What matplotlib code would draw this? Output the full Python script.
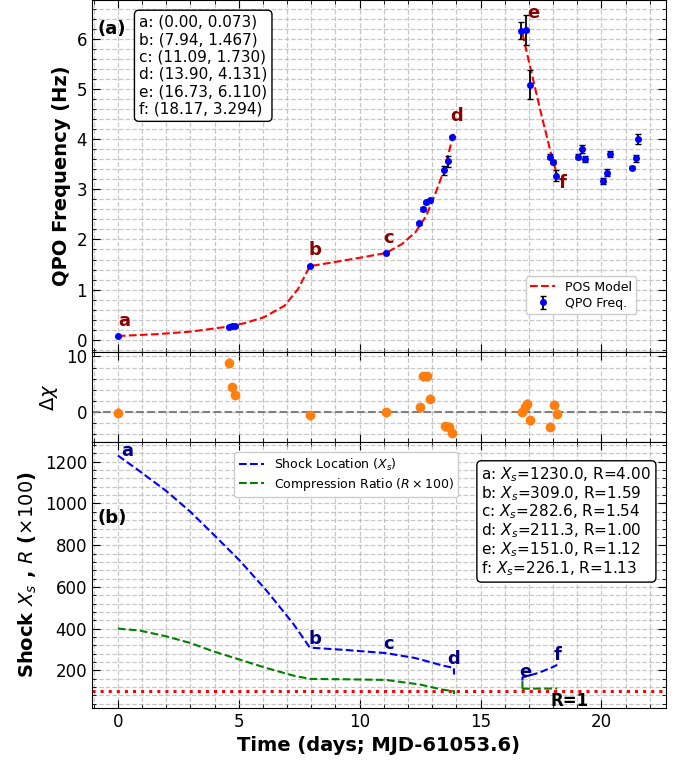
import numpy as np
import matplotlib.pyplot as plt
from matplotlib.ticker import AutoMinorLocator, MultipleLocator

# QPO frequencies used in the POS fit (segment 1 and 2)
t_fit1 = [0.0, 4.60, 4.72, 4.85, 7.94, 11.09, 12.47, 12.62, 12.76, 12.90, 13.50, 13.65, 13.80]
nu_fit1 = [0.073, 0.26, 0.27, 0.28, 1.467, 1.73, 2.32, 2.60, 2.74, 2.78, 3.38, 3.56, 4.04]
err_fit1 = [0.01, 0.02, 0.02, 0.02, 0.02, 0.02, 0.03, 0.04, 0.03, 0.03, 0.09, 0.11, 0.03]

t_fit2 = [16.68, 16.86, 17.03, 17.86, 17.99, 18.12]
nu_fit2 = [6.17, 6.19, 5.09, 3.65, 3.54, 3.27]
err_fit2 = [0.17, 0.30, 0.29, 0.05, 0.04, 0.11]

# later QPOs (not fitted)
t_late = [19.04, 19.19, 19.33, 20.08, 20.23, 20.36, 21.26, 21.41, 21.53]
nu_late = [3.65, 3.80, 3.61, 3.17, 3.33, 3.70, 3.43, 3.62, 4.01]
err_late = [0.05, 0.08, 0.06, 0.06, 0.07, 0.06, 0.03, 0.07, 0.10]

# POS model curve
mod_t1 = [0.0, 1.6, 3.0, 4.4, 5.25, 6.05, 6.9, 7.45, 7.94, 8.85, 9.95, 11.09, 11.75, 12.3, 12.75, 13.15, 13.5, 13.9]
mod_nu1 = [0.073, 0.11, 0.16, 0.25, 0.33, 0.45, 0.68, 1.01, 1.467, 1.54, 1.63, 1.73, 1.91, 2.14, 2.47, 2.94, 3.40, 4.131]
mod_t2 = [16.73, 17.0, 17.3, 17.56, 17.7, 17.97, 18.17]
mod_nu2 = [6.11, 5.55, 4.93, 4.40, 4.13, 3.60, 3.294]

# residuals
t_res = [0.0, 4.58, 4.72, 4.85, 7.96, 11.10, 12.48, 12.63, 12.78, 12.92, 13.54, 13.69, 13.80,
         16.72, 16.83, 16.90, 17.05, 17.89, 18.03, 18.14]
dchi = [-0.1, 8.9, 4.5, 3.15, -0.6, 0.0, 0.85, 6.4, 6.4, 2.4, -2.5, -2.6, -3.7,
        0.1, 1.0, 1.5, -1.45, -2.6, 1.3, -0.25]

# shock location and compression ratio (x100)
xs_t1 = [0.0, 0.9, 2.0, 3.0, 3.95, 5.05, 6.15, 7.25, 7.94, 9.5, 11.09, 12.3, 13.4, 13.6, 13.9, 13.9]
xs1 = [1230, 1155, 1060, 960, 852, 725, 582, 424, 309, 297, 282.6, 259, 224, 219, 211.3, 180]
r_t1 = [0.0, 0.9, 2.0, 3.0, 3.95, 5.05, 6.15, 7.25, 7.94, 9.5, 11.09, 12.5, 13.4, 13.9, 13.9]
r1 = [400, 391, 363, 331, 291, 251, 211, 175, 159, 157, 154, 132, 108, 100, 86]
xs_t2 = [16.73, 16.73, 17.4, 17.95, 18.17]
xs2 = [151, 166, 188, 214, 226.1]
r_t2 = [16.73, 16.73, 16.8, 18.17]
r2 = [148, 100, 112, 113]

labels = ['a', 'b', 'c', 'd', 'e', 'f']
pt_t = [0.00, 7.94, 11.09, 13.90, 16.73, 18.17]
pt_nu = [0.073, 1.467, 1.730, 4.131, 6.110, 3.294]
pt_xs = [1230.0, 309.0, 282.6, 211.3, 151.0, 226.1]
pt_r = [4.00, 1.59, 1.54, 1.00, 1.12, 1.13]

fig = plt.figure(figsize=(6.89, 7.62), dpi=100)
gs = fig.add_gridspec(3, 1, height_ratios=[352, 90, 266], hspace=0,
                      left=0.1335, right=0.966, bottom=0.071, top=1.0)
ax1 = fig.add_subplot(gs[0])
ax2 = fig.add_subplot(gs[1], sharex=ax1)
ax3 = fig.add_subplot(gs[2], sharex=ax1)

for ax in (ax1, ax2, ax3):
    ax.grid(True, which='both', linestyle='--', color='#b0b0b0', alpha=0.7, lw=0.9)
    ax.xaxis.set_minor_locator(AutoMinorLocator(5))
    ax.yaxis.set_minor_locator(AutoMinorLocator(5))
    ax.tick_params(which='both', direction='in', top=True, right=True, labelsize=12)
    ax.tick_params(which='major', length=6)
    ax.tick_params(which='minor', length=3)
    ax.set_axisbelow(True)

# (a) QPO frequency
ax1.plot(mod_t1, mod_nu1, '--', color='red', lw=1.5, label='POS Model')
ax1.plot(mod_t2, mod_nu2, '--', color='red', lw=1.5)
ax1.errorbar(t_fit1 + t_fit2 + t_late, nu_fit1 + nu_fit2 + nu_late,
             yerr=err_fit1 + err_fit2 + err_late, fmt='o', color='blue', ms=4,
             ecolor='black', elinewidth=1.3, capsize=2.5, label='QPO Freq.')
offs = [(4.3, 10.8), (4, 11.5), (2, 11), (2, 12), (8, 15), (4, -6)]
for lab, t, v, o in zip(labels, pt_t, pt_nu, offs):
    ax1.annotate(lab, (t, v), xytext=o, textcoords='offset points', ha='center', va='center',
                 color='darkred', fontsize=13, fontweight='bold')
ax1.set_ylim(-0.245, 6.78)
ax1.yaxis.set_major_locator(MultipleLocator(1))
ax1.set_ylabel('QPO Frequency (Hz)', fontsize=14, fontweight='bold')
ax1.text(0.01, 0.918, '(a)', transform=ax1.transAxes, fontsize=13, fontweight='bold', va='center')
txt_a = '\n'.join(f'{l}: ({t:.2f}, {v:.3f})' for l, t, v in zip(labels, pt_t, pt_nu))
ax1.text(0.082, 0.958, txt_a, transform=ax1.transAxes, fontsize=11, va='top', ha='left',
         bbox=dict(boxstyle='round,pad=0.3', facecolor='white', edgecolor='black'))
ax1.legend(loc='lower right', bbox_to_anchor=(0.96, 0.09), fontsize=9, framealpha=1,
           labelspacing=0.25, borderpad=0.35)
plt.setp(ax1.get_xticklabels(), visible=False)

# residuals
ax2.axhline(0, color='gray', ls='--', lw=1.5)
ax2.errorbar(t_res, dchi, yerr=0.8, fmt='o', color='tab:orange', ms=6, elinewidth=1.8)
ax2.set_ylim(-5.35, 10.8)
ax2.yaxis.set_major_locator(MultipleLocator(10))
ax2.set_ylabel(r'$\Delta\chi$', fontsize=14)
plt.setp(ax2.get_xticklabels(), visible=False)

# (b) shock location and compression ratio
ax3.plot(xs_t1, xs1, '--', color='blue', lw=1.5, label=r'Shock Location ($X_s$)')
ax3.plot(xs_t2, xs2, '--', color='blue', lw=1.5)
ax3.plot(r_t1, r1, '--', color='green', lw=1.5, label=r'Compression Ratio ($R\times100$)')
ax3.plot(r_t2, r2, '--', color='green', lw=1.5)
ax3.axhline(100, color='red', ls=':', lw=2.2)
ax3.text(17.9, 96, 'R=1', fontsize=12, fontweight='bold', va='top', ha='left')
offs_b = [(7, 3), (4, 6.5), (2, 6.5), (0, 6.5), (2, 6), (0, 7)]
for lab, t, v, o in zip(labels, pt_t, pt_xs, offs_b):
    ax3.annotate(lab, (t, v), xytext=o, textcoords='offset points', ha='center', va='center',
                 color='navy', fontsize=13, fontweight='bold')
ax3.set_ylim(20, 1295)
ax3.yaxis.set_major_locator(MultipleLocator(200))
ax3.set_xlim(-1.07, 22.65)
ax3.xaxis.set_major_locator(MultipleLocator(5))
ax3.set_ylabel(r'Shock $X_s$ , $R$ ($\times100$)', fontsize=14, fontweight='bold')
ax3.set_xlabel('Time (days; MJD-61053.6)', fontsize=14, fontweight='bold')
ax3.text(0.01, 0.714, '(b)', transform=ax3.transAxes, fontsize=13, fontweight='bold', va='center')
txt_b = '\n'.join(f'{l}: $X_s$={x:.1f}, R={r:.2f}' for l, x, r in zip(labels, pt_xs, pt_r))
ax3.text(0.679, 0.912, txt_b, transform=ax3.transAxes, fontsize=11, va='top', ha='left',
         linespacing=1.0,
         bbox=dict(boxstyle='round,pad=0.3', facecolor='white', edgecolor='black'))
ax3.legend(loc='upper left', bbox_to_anchor=(0.237, 0.985), fontsize=9, framealpha=1,
           labelspacing=0.25, borderpad=0.35)

fig.savefig('out.png', dpi=100)
